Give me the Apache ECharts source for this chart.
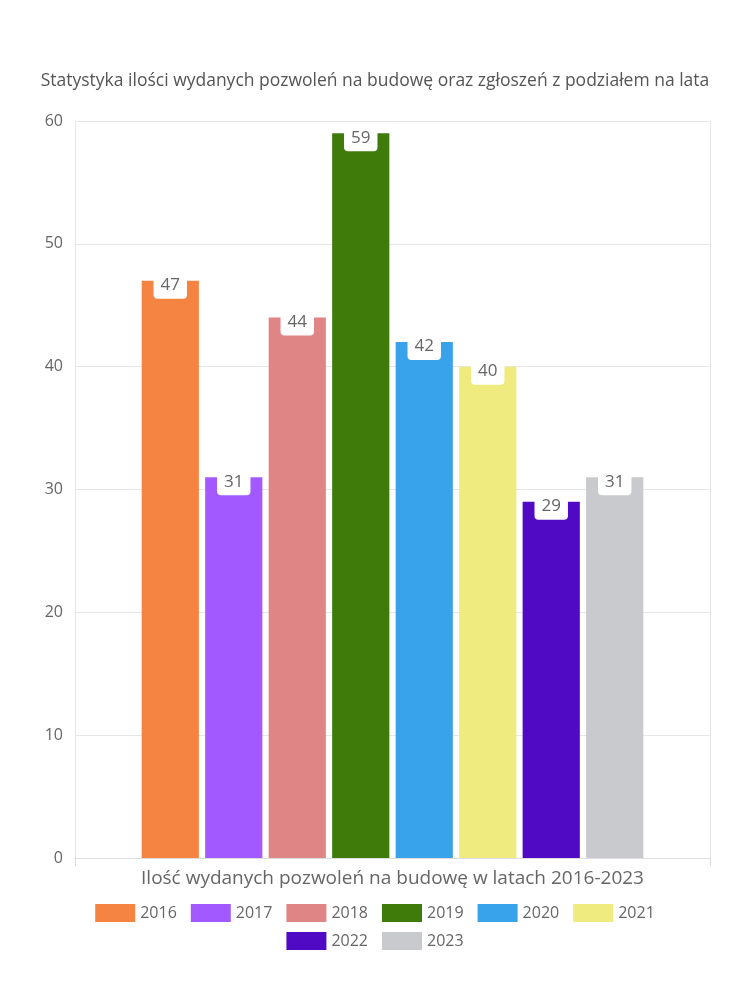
<!DOCTYPE html>
<html><head><meta charset="utf-8">
<script src="https://cdn.jsdelivr.net/npm/echarts@6/dist/echarts.min.js"></script>
<style>html,body{margin:0;padding:0;background:#fff}#c{width:750px;height:1000px}</style>
</head><body><div id="c"></div>
<script>
const categories = ['Ilość wydanych pozwoleń na budowę w latach 2016-2023'];
const years = ['2016','2017','2018','2019','2020','2021','2022','2023'];
const values = [47, 31, 44, 59, 42, 40, 29, 31];
const colors = ['#f58442','#a259ff','#e08585','#3e7b0b','#38a3ea','#f0eb7e','#510ac4','#c9cacd'];
const yTicks = [0, 10, 20, 30, 40, 50, 60];
const FONT = '"Open Sans", Lato, sans-serif';

const legendCommon = {
  left: 'center', orient: 'horizontal',
  itemWidth: 40, itemHeight: 18, itemGap: 14,
  icon: 'rect',
  textStyle: {fontFamily: FONT, fontSize: 16, color: '#666'}
};

const chart = echarts.init(document.getElementById('c'), null, {renderer: 'canvas'});
chart.setOption({
  animation: false,
  textStyle: {fontFamily: FONT},
  title: {
    text: 'Statystyka ilości wydanych pozwoleń na budowę oraz zgłoszeń z podziałem na lata',
    left: 'center', top: 67,
    textStyle: {fontFamily: FONT, fontSize: 17.5, fontWeight: 'normal', color: '#555'}
  },
  legend: [
    Object.assign({data: years.slice(0, 6), top: 899}, legendCommon),
    Object.assign({data: years.slice(6), top: 927}, legendCommon)
  ],
  grid: {left: 75, right: 40, top: 121, bottom: 142},
  xAxis: {
    type: 'category', data: categories,
    axisLine: {lineStyle: {color: '#ddd'}},
    axisTick: {show: true, length: 8, lineStyle: {color: '#ddd'}},
    splitLine: {show: true, lineStyle: {color: '#e6e6e6'}},
    axisLabel: {fontFamily: FONT, fontSize: 19, color: '#666', margin: 11}
  },
  yAxis: {
    type: 'value', min: yTicks[0], max: yTicks[yTicks.length-1], interval: 10,
    axisLine: {show: false}, axisTick: {show: false},
    splitLine: {lineStyle: {color: '#e6e6e6'}},
    axisLabel: {fontFamily: FONT, fontSize: 16, color: '#666', margin: 12}
  },
  series: years.map((y, i) => ({
    name: y, type: 'bar', data: [values[i]],
    barGap: '11%', barCategoryGap: '21%',
    itemStyle: {color: colors[i]},
    label: {
      show: true, position: 'insideTop', offset: [0, -12],
      backgroundColor: '#fff', padding: [3, 7, 5, 7], borderRadius: 4,
      fontFamily: FONT, fontSize: 17, color: '#666'
    }
  }))
});
</script></body></html>
